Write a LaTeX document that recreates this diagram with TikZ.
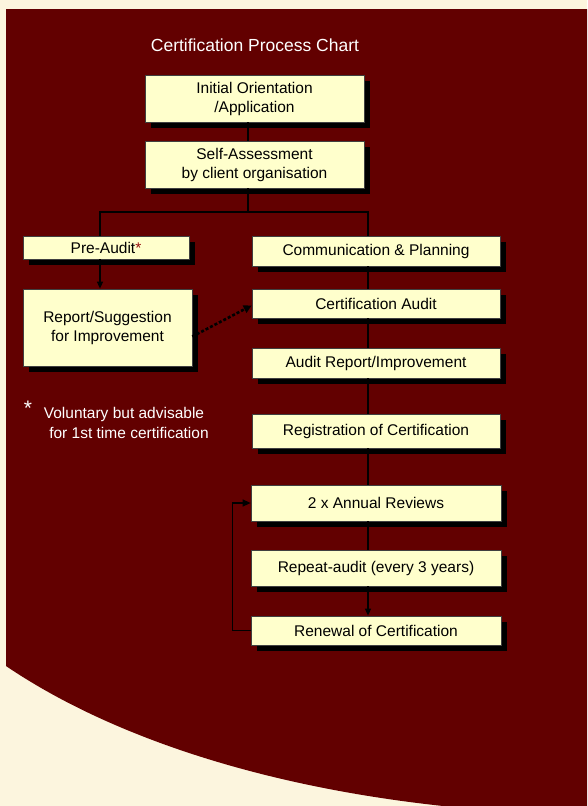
\documentclass[tikz,border=0pt]{standalone}
\usepackage{fontspec}
\setmainfont{Liberation Sans}
\usetikzlibrary{shadows}
\usetikzlibrary{arrows.meta}
\usetikzlibrary{positioning}
\definecolor{cmaroon}{RGB}{98,0,0}
\definecolor{ccream}{RGB}{252,245,222}
\definecolor{cbox}{RGB}{255,255,204}
\definecolor{cstar}{RGB}{150,15,15}

\begin{document}
\begin{tikzpicture}[x=1pt, y=-1pt,
  box/.style={draw=black!75, line width=0.7pt, fill=cbox, align=center, inner sep=0pt,
    font=\fontsize{15.5}{19}\selectfont,
    drop shadow={shadow xshift=6pt, shadow yshift=-6pt, opacity=1, fill=black}},
  link/.style={line width=1.2pt},
  tip/.style={-{Triangle[length=7pt,width=6pt]}}]
  \useasboundingbox (0,0) rectangle (587,806);
  \fill [ccream] (0,0) rectangle (587,806);
  \fill [cmaroon] (6,9) -- (587,9) -- (587,815)
    .. controls (330,810) and (130,750) .. (6,666) -- cycle;

  \node [white, font=\fontsize{17.5}{20}\selectfont] (title) at (255,45) {Certification Process Chart};

  \node [box, minimum width=219pt, minimum height=47pt] (init) at (254.5,98.5) {Initial Orientation\\/Application};
  \node [box, minimum width=219pt, minimum height=47pt] (self) at (254.5,164.5) {Self-Assessment\\by client organisation};
  \node [box, minimum width=166pt, minimum height=23pt] (pre) at (106,247.5) {Pre-Audit\textcolor{cstar}{*}};
  \node [box, minimum width=169pt, minimum height=77pt] (report) at (107.5,327.5) {Report/Suggestion\\for Improvement};
  \node [box, minimum width=248pt, minimum height=30pt] (comm) at (376,251) {Communication \& Planning};
  \node [box, minimum width=248pt, minimum height=29pt] (cert) at (376,303.5) {Certification Audit};
  \node [box, minimum width=248pt, minimum height=30pt] (arep) at (376,363) {Audit Report/Improvement};
  \node [box, minimum width=248pt, minimum height=34pt] (reg) at (376,431) {Registration of Certification};
  \node [box, minimum width=250pt, minimum height=36pt] (annual) at (376,503) {2 x Annual Reviews};
  \node [box, minimum width=250pt, minimum height=36pt] (repeat) at (376,568) {Repeat-audit (every 3 years)};
  \node [box, minimum width=250pt, minimum height=29pt] (renewal) at (376,630.5) {Renewal of Certification};

  \node [white, font=\fontsize{21}{22}\selectfont] (star) at (28,408) {*};
  \node [white, align=center, font=\fontsize{15.5}{20.5}\selectfont] (note) at (124,423)
    {Voluntary but advisable\\\hspace*{10pt}for 1st time certification};

  \coordinate (split) at (248,212);
  \coordinate (lsplit) at (100,212);
  \coordinate (rsplit) at (368,212);

  \draw [link] (init.south -| split) -- (self.north -| split);
  \draw [link] (self.south -| split) -- (split);
  \draw [link] (pre.north -| lsplit) -- (lsplit) -- (rsplit) -- (comm.north -| rsplit);
  \draw [link, tip] (pre.south -| lsplit) -- (report.north -| lsplit);
  \draw [link] (comm.south -| rsplit) -- (cert.north -| rsplit);
  \draw [link] (cert.south -| rsplit) -- (arep.north -| rsplit);
  \draw [link] (arep.south -| rsplit) -- (reg.north -| rsplit);
  \draw [link] (reg.south -| rsplit) -- (annual.north -| rsplit);
  \draw [link] (annual.south -| rsplit) -- (repeat.north -| rsplit);
  \draw [link, tip] (repeat.south -| rsplit) -- (renewal.north -| rsplit);
  \draw [link, -{Triangle[length=8pt,width=7pt]}] (renewal.west) -- ++(-18,0) |- (annual.west);
  \draw [line width=2.6pt, dash pattern=on 3pt off 2pt, -{Triangle[length=8pt,width=8pt]}]
    ([yshift=-9pt]report.east) -- ([yshift=-2pt]cert.west);
\end{tikzpicture}
\end{document}
